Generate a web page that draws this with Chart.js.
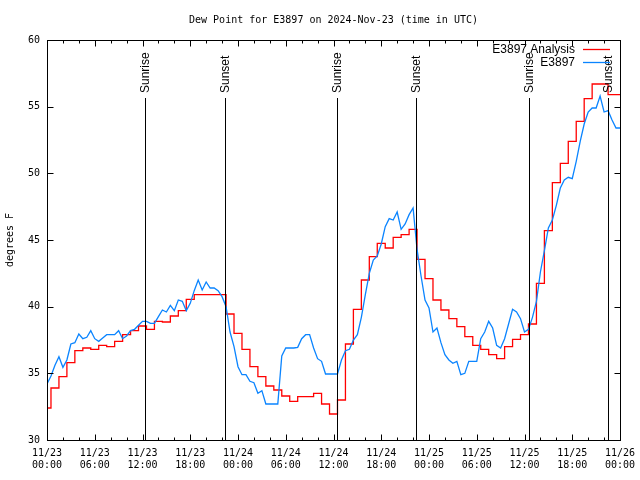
<!DOCTYPE html>
<html><head><meta charset="utf-8">
<script src="https://cdn.jsdelivr.net/npm/chart.js@4.4.0/dist/chart.umd.min.js"></script>
<style>html,body{margin:0;padding:0;background:#fff}canvas{display:block}</style>
</head><body>
<canvas id="c" width="640" height="480" style="width:640px;height:480px"></canvas>
<script>
const titleText = 'Dew Point for E3897 on 2024-Nov-23 (time in UTC)';
const yAxisTitle = 'degrees F';
const xTickDates = ['11/23','11/23','11/23','11/23','11/24','11/24','11/24','11/24','11/25','11/25','11/25','11/25','11/26'];
const xTickTimes = ['00:00','06:00','12:00','18:00','00:00','06:00','12:00','18:00','00:00','06:00','12:00','18:00','00:00'];
const redName = 'E3897 Analysis';
const blueName = 'E3897';
// hourly analysis values, hour 0 .. 72
const redValues = [32.4,33.9,34.75,35.8,36.7,36.9,36.8,37.1,37.0,37.4,37.9,38.2,38.55,38.3,38.9,38.85,39.3,39.7,40.55,40.9,40.9,40.9,40.9,39.45,38.0,36.8,35.5,34.75,34.05,33.75,33.3,32.9,33.25,33.25,33.5,32.7,31.95,33.0,37.2,39.8,42.0,43.75,44.75,44.4,45.2,45.4,45.8,43.55,42.1,40.5,39.75,39.1,38.5,37.75,37.1,36.8,36.4,36.1,37.0,37.55,37.9,38.7,41.75,45.7,49.3,50.75,52.4,53.9,55.6,56.7,56.7,55.9,55.9];
// observed values, every half hour from hour 0 .. 72
const blueStepHours = 0.5;
const blueValues = [34.2,34.8,35.6,36.25,35.45,36.0,37.2,37.3,37.95,37.6,37.7,38.2,37.6,37.4,37.65,37.9,37.9,37.9,38.2,37.6,37.8,38.2,38.3,38.6,38.9,38.9,38.75,38.75,39.25,39.75,39.6,40.1,39.7,40.5,40.4,39.7,40.25,41.2,42.0,41.25,41.85,41.4,41.4,41.2,40.75,40.0,38.1,37.0,35.5,34.9,34.9,34.4,34.3,33.5,33.7,32.7,32.7,32.7,32.7,36.3,36.9,36.9,36.9,36.95,37.6,37.9,37.9,36.9,36.1,35.9,34.95,34.95,34.95,34.95,36.0,36.7,36.8,37.5,37.9,39.2,40.9,42.5,43.5,43.8,44.7,46.0,46.6,46.5,47.1,45.8,46.2,46.9,47.4,44.3,42.3,40.5,39.9,38.1,38.4,37.3,36.4,36.0,35.75,35.9,34.9,35.0,35.9,35.9,35.9,37.6,38.1,38.9,38.4,37.1,36.9,37.6,38.7,39.8,39.6,39.1,38.1,38.3,39.2,40.4,42.6,44.2,45.9,46.5,47.6,48.9,49.5,49.7,49.6,50.9,52.4,53.7,54.6,54.9,54.9,55.8,54.6,54.7,54.0,53.4,53.4];
const sunLabels = ['Sunrise','Sunset','Sunrise','Sunset','Sunrise','Sunset'];
const sunHours = [12.35,22.4,36.45,46.4,60.6,70.5];

const mono = "'DejaVu Sans Mono', monospace";
const sans = "'Liberation Sans', Arial, sans-serif";
const redColor = '#ff0000';
const blueColor = '#0a84ff';

const overlay = {
  id: 'overlay',
  afterDatasetsDraw(chart) {
    const {ctx, chartArea: a, scales: {x, y}} = chart;
    const L = Math.round(a.left) + 0.5, R = Math.round(a.right) + 0.5;
    const T = Math.round(a.top) + 0.5, B = Math.round(a.bottom) + 0.5;
    ctx.save();
    ctx.strokeStyle = '#000';
    ctx.lineWidth = 1;
    // sunrise / sunset lines
    sunHours.forEach((h, i) => {
      const px = Math.round(x.getPixelForValue(h)) + 0.5;
      ctx.beginPath(); ctx.moveTo(px, a.top + 58); ctx.lineTo(px, B); ctx.stroke();
      ctx.save();
      ctx.translate(px + 0.5, a.top + 53);
      ctx.rotate(-Math.PI / 2);
      ctx.font = '12px ' + sans;
      ctx.fillStyle = '#000';
      ctx.textAlign = 'left';
      ctx.textBaseline = 'middle';
      ctx.fillText(sunLabels[i], 0, 0);
      ctx.restore();
    });
    // border
    ctx.strokeRect(L, T, R - L, B - T);
    // x ticks (inward, bottom and top)
    for (let h = 0; h <= 72; h += 2) {
      const px = Math.round(x.getPixelForValue(h)) + 0.5;
      const len = h % 6 === 0 ? 6 : 3;
      ctx.beginPath();
      ctx.moveTo(px, B); ctx.lineTo(px, B - len);
      ctx.moveTo(px, T); ctx.lineTo(px, T + len);
      ctx.stroke();
    }
    // y ticks
    for (let v = 30; v <= 60; v += 5) {
      const py = Math.round(y.getPixelForValue(v)) + 0.5;
      ctx.beginPath();
      ctx.moveTo(L, py); ctx.lineTo(L + 6, py);
      ctx.moveTo(R, py); ctx.lineTo(R - 6, py);
      ctx.stroke();
    }
    // legend
    const rows = [[redName, redColor], [blueName, blueColor]];
    rows.forEach(([name, col], i) => {
      const ry = a.top + 9 + i * 13;
      ctx.font = '12px ' + sans;
      ctx.fillStyle = '#000';
      ctx.textAlign = 'right';
      ctx.textBaseline = 'middle';
      ctx.fillText(name, a.right - 45, ry + 1);
      ctx.strokeStyle = col;
      ctx.lineWidth = 1.3;
      ctx.beginPath();
      ctx.moveTo(a.right - 37, ry + 0.5); ctx.lineTo(a.right - 10, ry + 0.5);
      ctx.stroke();
    });
    ctx.restore();
  }
};

new Chart(document.getElementById('c'), {
  type: 'line',
  data: {
    datasets: [
      {
        label: redName,
        data: redValues.map((v, i) => ({x: i, y: v})),
        borderColor: redColor,
        borderWidth: 1.3,
        pointRadius: 0,
        stepped: 'middle',
        fill: false,
        order: 1
      },
      {
        label: blueName,
        data: blueValues.map((v, i) => ({x: i * blueStepHours, y: v})),
        borderColor: blueColor,
        borderWidth: 1.3,
        pointRadius: 0,
        tension: 0,
        fill: false,
        order: 0
      }
    ]
  },
  options: {
    responsive: false,
    animation: false,
    devicePixelRatio: 1,
    layout: {padding: {left: 0, right: 20, top: 0, bottom: 0}},
    plugins: {
      legend: {display: false},
      tooltip: {enabled: false},
      title: {
        display: true,
        text: titleText,
        fullSize: false,
        color: '#000',
        font: {family: mono, size: 10, weight: 'normal', lineHeight: 1.2},
        padding: {top: 14, bottom: 14}
      }
    },
    scales: {
      x: {
        type: 'linear',
        min: 0, max: 72,
        afterFit: s => { s.height = 40; s.paddingRight = 0; s.paddingLeft = 0; },
        grid: {display: false, drawTicks: false},
        border: {display: false},
        ticks: {
          stepSize: 6,
          autoSkip: false,
          maxRotation: 0,
          padding: 7,
          color: '#000',
          font: {family: mono, size: 10},
          callback: v => [xTickDates[v / 6], xTickTimes[v / 6]]
        }
      },
      y: {
        min: 30, max: 60,
        afterFit: s => { s.width = 47; },
        grid: {display: false, drawTicks: false},
        border: {display: false},
        ticks: {stepSize: 5, padding: 7, color: '#000', font: {family: mono, size: 10}},
        title: {display: true, text: yAxisTitle, color: '#000', font: {family: mono, size: 10}}
      }
    }
  },
  plugins: [overlay]
});
</script>
</body></html>
